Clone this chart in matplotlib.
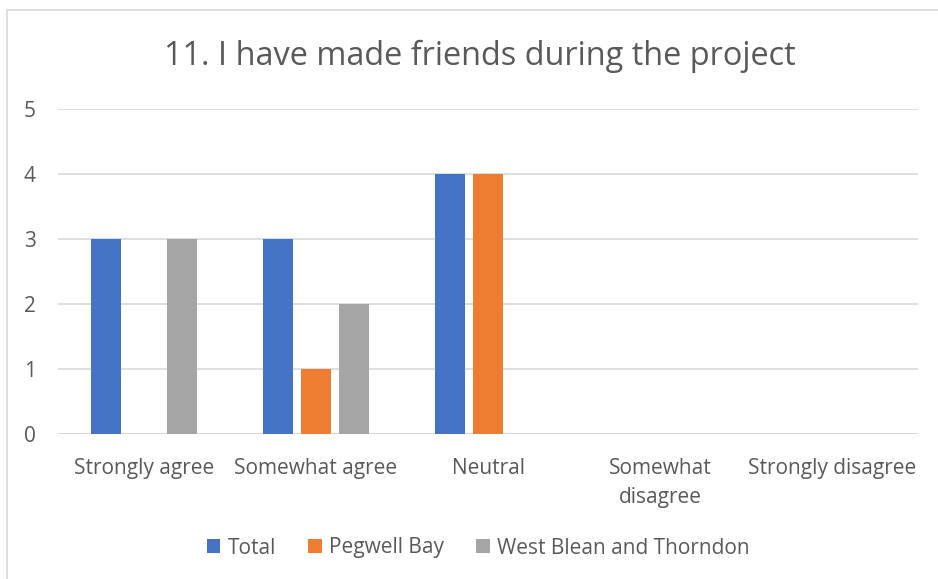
import matplotlib
matplotlib.use("Agg")
import matplotlib.pyplot as plt
import numpy as np
from matplotlib.patches import Rectangle

categories = ["Strongly agree", "Somewhat agree", "Neutral", "Somewhat\ndisagree", "Strongly disagree"]
series_names = ["Total", "Pegwell Bay", "West Blean and Thorndon"]
total = [3, 3, 4, 0, 0]
pegwell = [0, 1, 4, 0, 0]
west_blean = [3, 2, 0, 0, 0]
yticks = [0, 1, 2, 3, 4, 5]
colors = ["#4472C4", "#ED7D31", "#A5A5A5"]
title = "11. I have made friends during the project"

plt.rcParams['font.family'] = ['Open Sans', 'DejaVu Sans']
txt = "#595959"

fig = plt.figure(figsize=(9.38, 5.79), dpi=100)
fig.patches.append(Rectangle((7/938, -0.1), 1.2, 1 - 10/579 + 0.1, transform=fig.transFigure,
                             fill=False, edgecolor="#D9D9D9", linewidth=1.2))
ax = fig.add_axes([58/938, 1 - 434/579, 860/938, 325/579])

x = np.arange(len(categories))
w = 30/172
step = 38/172
for i, (vals, name) in enumerate(zip([total, pegwell, west_blean], series_names)):
    ax.bar(x + (i - 1) * step, vals, width=w, color=colors[i], label=name, zorder=3)

ax.set_xlim(-0.5, len(categories) - 0.5)
ax.set_ylim(0, 5)
ax.set_yticks(yticks)
ax.yaxis.grid(True, color="#D9D9D9", linewidth=1.2, zorder=0)
for s in ax.spines.values():
    s.set_visible(False)
ax.axhline(0, color="#D9D9D9", linewidth=1.2, zorder=2)
ax.tick_params(axis='both', length=0, labelsize=15, labelcolor=txt)
ax.tick_params(axis='y', pad=16)
ax.tick_params(axis='x', pad=17)
ax.set_xticks(x)
ax.set_xticklabels(categories, linespacing=1.5, va='top')

fig.text(0.511, 1 - 56/579, title, ha='center', va='center', fontsize=23.4, color=txt)

leg = fig.legend(loc='center', bbox_to_anchor=(0.51, 1 - 548/579), ncol=3, frameon=False,
                 fontsize=15, labelcolor=txt, handlelength=0.65, handleheight=0.65,
                 handletextpad=0.35, columnspacing=1.55)

fig.savefig("out.png", dpi=100)
